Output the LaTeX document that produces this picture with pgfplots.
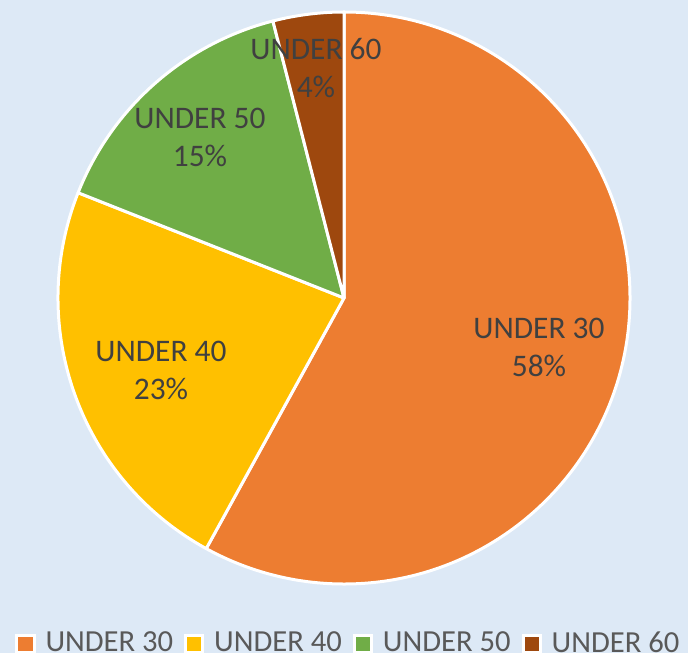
\documentclass[border=0pt]{standalone}
\usepackage{pgfplots}
\pgfplotsset{compat=1.18}
\usepackage{fontspec}
\setmainfont{Carlito}
\definecolor{bgc}{HTML}{DDE9F6}
\definecolor{c1}{HTML}{ED7D31}
\definecolor{c2}{HTML}{FFC000}
\definecolor{c3}{HTML}{70AD47}
\definecolor{c4}{HTML}{9E480E}
\definecolor{lbl}{HTML}{404040}
\definecolor{leg}{HTML}{595959}
% values (percent): UNDER 30 = 58, UNDER 40 = 23, UNDER 50 = 15, UNDER 60 = 4
\begin{document}
\begin{tikzpicture}
\begin{axis}[hide axis, scale only axis, width=344pt, height=326.5pt,
  xmin=0, xmax=688, ymin=-653, ymax=0, clip=false,
  legend columns=4,
  legend image code/.code={\draw[#1, line width=1.5pt] (0pt,-4.25pt) rectangle (8.5pt,4.25pt);},
  legend style={draw=none, fill=none, at={(axis cs:15.5,-643.5)}, anchor=west,
    font=\fontsize{15.3}{18}\selectfont, text=leg,
    inner sep=0pt, outer sep=0pt,
    nodes={inner xsep=0pt, inner ysep=1pt},
    /tikz/every odd column/.append style={column sep=5pt},
    /tikz/every even column/.append style={column sep=5.5pt}},
]
\fill[bgc] (axis cs:0,0) rectangle (axis cs:688,-653);
\filldraw[fill=c1, draw=white, line width=1.5pt, line join=round] (axis cs:344,-298) -- ++(90:143pt) arc[start angle=90, end angle={90-3.6*58}, radius=143pt] -- cycle;
\filldraw[fill=c2, draw=white, line width=1.5pt, line join=round] (axis cs:344,-298) -- ++({90-3.6*58}:143pt) arc[start angle={90-3.6*58}, end angle={90-3.6*81}, radius=143pt] -- cycle;
\filldraw[fill=c3, draw=white, line width=1.5pt, line join=round] (axis cs:344,-298) -- ++({90-3.6*81}:143pt) arc[start angle={90-3.6*81}, end angle={90-3.6*96}, radius=143pt] -- cycle;
\filldraw[fill=c4, draw=white, line width=1.5pt, line join=round] (axis cs:344,-298) -- ++({90-3.6*96}:143pt) arc[start angle={90-3.6*96}, end angle={-270}, radius=143pt] -- cycle;
\begin{scope}[every node/.style={text=lbl, font=\fontsize{15.7}{19}\selectfont, align=center}]
\node at (axis cs:539,-347) {UNDER 30\\58\%};
\node at (axis cs:161,-370) {UNDER 40\\23\%};
\node at (axis cs:200,-137) {UNDER 50\\15\%};
\node at (axis cs:316,-68) {UNDER 60\\4\%};
\end{scope}
\addlegendimage{fill=c1, draw=white}
\addlegendentry{UNDER 30}
\addlegendimage{fill=c2, draw=white}
\addlegendentry{UNDER 40}
\addlegendimage{fill=c3, draw=white}
\addlegendentry{UNDER 50}
\addlegendimage{fill=c4, draw=white}
\addlegendentry{UNDER 60}
\end{axis}
\end{tikzpicture}
\end{document}
